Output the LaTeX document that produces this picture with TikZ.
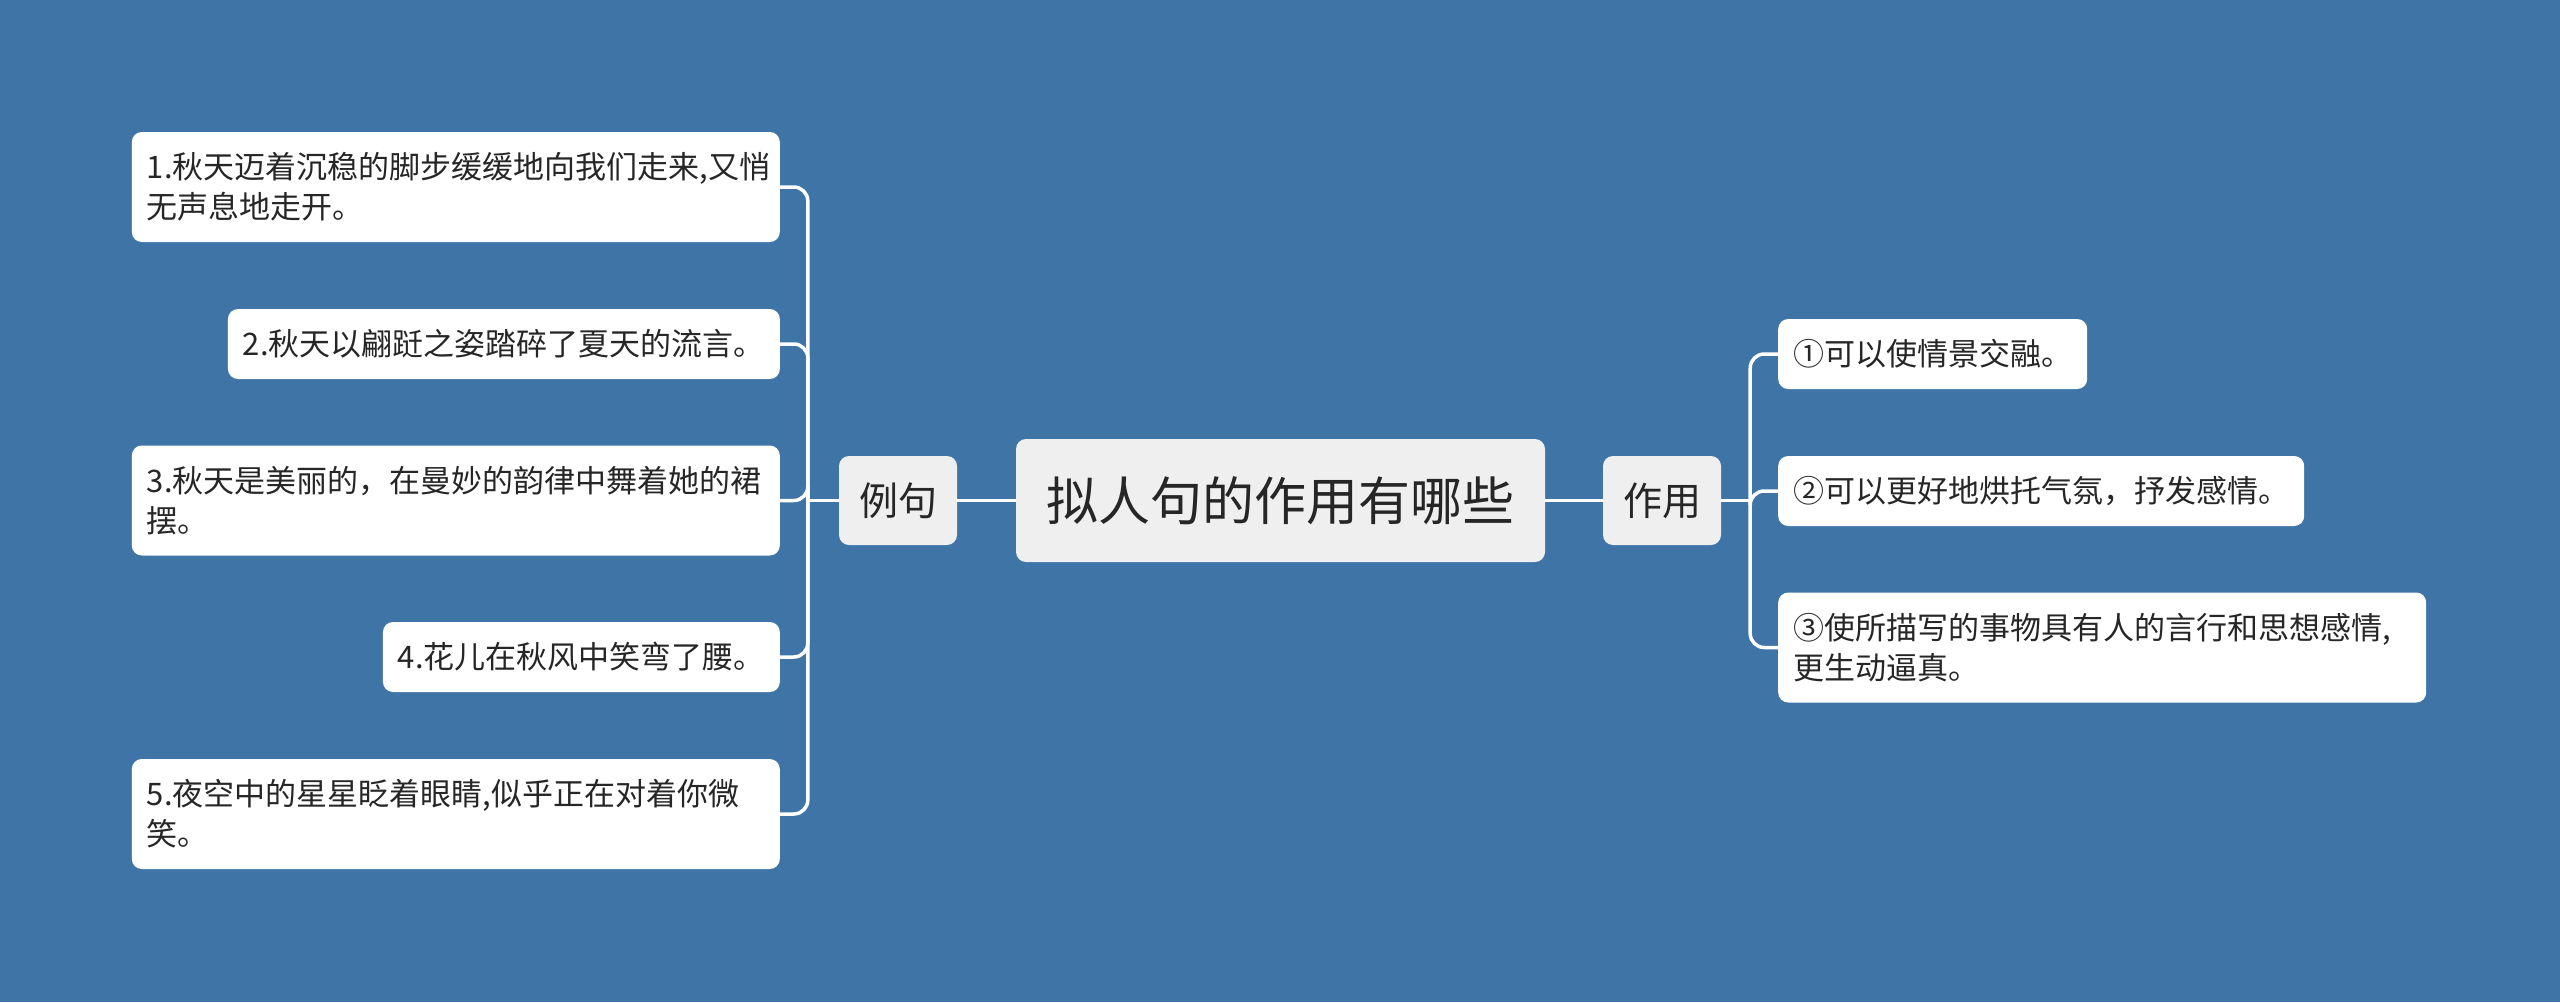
\documentclass[tikz,border=0pt]{standalone}
\usepackage{fontspec}
\setmainfont{Noto Sans CJK SC}
\usetikzlibrary{calc}
\definecolor{bgblue}{HTML}{3E74A6}
\definecolor{txt}{HTML}{262626}
\definecolor{hub}{HTML}{EFEFEF}
\begin{document}
\begin{tikzpicture}[x=1pt,y=-1pt,
  leaf/.style={fill=white, rounded corners=10pt, text=txt, inner xsep=15pt, inner ysep=8pt,
    font=\fontsize{31}{40}\selectfont, align=left},
  leafone/.style={leaf, minimum height=70pt},
  leaftwo/.style={leaf, minimum height=110pt, text width=618pt},
  mid/.style={fill=hub, rounded corners=10pt, text=txt, font=\fontsize{39}{46}\selectfont,
    minimum width=118pt, minimum height=89pt, inner sep=0pt},
  root/.style={fill=hub, rounded corners=10pt, text=txt, font=\fontsize{52}{60}\selectfont,
    minimum width=529pt, minimum height=123pt, inner sep=0pt},
  conn/.style={draw=white, line width=3.5pt},
  branch/.style={conn, rounded corners=14pt}]
\fill[bgblue] (0,0) rectangle (2560,1002);
\useasboundingbox (0,0) rectangle (2560,1002);

\node[root] (c) at (1280.5,500.5) {拟人句的作用有哪些};
\node[mid] (l) at (898,500.5) {例句};
\node[mid] (r) at (1662,500.5) {作用};

\node[leaftwo, anchor=east] (a1) at (780,187) {1.秋天迈着沉稳的脚步缓缓地向我们走来,又悄\\无声息地走开。};
\node[leafone, anchor=east] (a2) at (780,344) {2.秋天以翩跹之姿踏碎了夏天的流言。};
\node[leaftwo, anchor=east] (a3) at (780,500.5) {3.秋天是美丽的，在曼妙的韵律中舞着她的裙\\摆。};
\node[leafone, anchor=east] (a4) at (780,657) {4.花儿在秋风中笑弯了腰。};
\node[leaftwo, anchor=east] (a5) at (780,814) {5.夜空中的星星眨着眼睛,似乎正在对着你微\\笑。};

\node[leafone, anchor=west] (b1) at (1778,354) {①可以使情景交融。};
\node[leafone, anchor=west] (b2) at (1778,491) {②可以更好地烘托气氛，抒发感情。};
\node[leaftwo, anchor=west] (b3) at (1778,647.5) {③使所描写的事物具有人的言行和思想感情,\\更生动逼真。};

\coordinate (lj) at ($(l.west)+(-31,0)$);
\coordinate (rj) at ($(r.east)+(29,0)$);

\draw[conn] (c.west) -- (l.east);
\draw[conn] (c.east) -- (r.west);
\draw[conn] (l.west) -- (lj);
\draw[conn] (r.east) -- (rj);
\foreach \n in {a1,a2,a3,a4,a5}
  \draw[branch] (lj) |- (\n.east);
\foreach \n in {b1,b2,b3}
  \draw[branch] (rj) |- (\n.west);
\end{tikzpicture}
\end{document}
